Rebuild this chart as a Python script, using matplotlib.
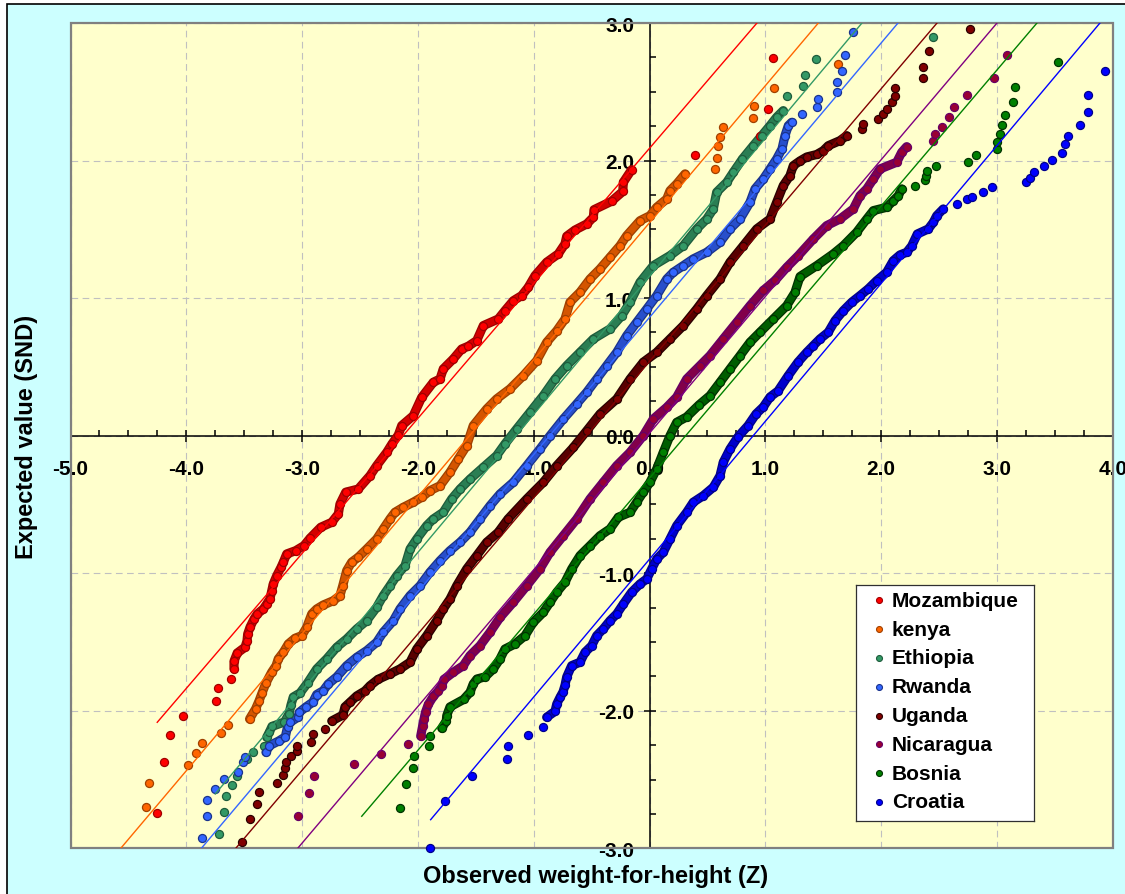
import matplotlib
matplotlib.use("Agg")
import numpy as np
import matplotlib.pyplot as plt
import matplotlib.patheffects as pe
from matplotlib.patches import Rectangle
from matplotlib.ticker import MultipleLocator
from matplotlib.colors import to_rgb

plt.rcParams['font.family'] = ['Liberation Sans', 'DejaVu Sans']
plt.rcParams['font.weight'] = 'bold'
plt.rcParams['axes.unicode_minus'] = False

# observed z (x) against expected SND value (y), low to high
moz_x = [-4.25, -4.195, -4.143, -4.031, -3.741, -3.726, -3.618, -3.588, -3.588, -3.56,
         -3.493, -3.476, -3.47, -3.45, -3.415, -3.387, -3.335, -3.306, -3.278, -3.262,
         -3.249, -3.219, -3.182, -3.162, -3.133, -3.055, -2.984, -2.932, -2.839, -2.744,
         -2.687, -2.673, -2.623, -2.515, -2.414, -2.356, -2.269, -2.224, -2.169, -2.14,
         -2.04, -1.967, -1.867, -1.809, -1.781, -1.694, -1.622, -1.565, -1.492, -1.435,
         -1.306, -1.248, -1.176, -1.104, -1.047, -0.989, -0.888, -0.788, -0.73, -0.715,
         -0.643, -0.542, -0.485, -0.479, -0.328, -0.231, -0.226, -0.154, 0.393, 0.954,
         1.026, 1.064]
moz_y = [-2.745, -2.374, -2.177, -2.036, -1.931, -1.838, -1.772, -1.696, -1.64, -1.58,
         -1.538, -1.493, -1.442, -1.393, -1.333, -1.296, -1.26, -1.224, -1.187, -1.127,
         -1.078, -1.018, -0.957, -0.92, -0.86, -0.836, -0.8, -0.746, -0.666, -0.63,
         -0.569, -0.497, -0.411, -0.388, -0.291, -0.218, -0.121, -0.06, 0.005, 0.073,
         0.145, 0.279, 0.388, 0.412, 0.485, 0.558, 0.63, 0.65, 0.691, 0.8,
         0.848, 0.909, 0.981, 1.018, 1.079, 1.163, 1.261, 1.321, 1.394, 1.45,
         1.495, 1.539, 1.588, 1.643, 1.704, 1.775, 1.842, 1.934, 2.041, 2.181,
         2.375, 2.748]

ken_x = [-4.348, -4.322, -3.988, -3.919, -3.867, -3.70, -3.644, -3.454, -3.402, -3.372,
         -3.346, -3.312, -3.263, -3.225, -3.206, -3.162, -3.119, -3.061, -3.003, -2.96,
         -2.917, -2.874, -2.817, -2.731, -2.673, -2.649, -2.615, -2.572, -2.515, -2.442,
         -2.356, -2.299, -2.241, -2.198, -2.126, -2.04, -1.967, -1.896, -1.809, -1.723,
         -1.651, -1.579, -1.522, -1.406, -1.32, -1.205, -1.09, -0.974, -0.888, -0.801,
         -0.73, -0.687, -0.60, -0.514, -0.428, -0.341, -0.255, -0.197, -0.082, 0.004,
         0.062, 0.149, 0.177, 0.235, 0.307, 0.566, 0.58, 0.594, 0.609, 0.632,
         0.891, 0.902, 1.078, 1.63]
ken_y = [-2.697, -2.525, -2.396, -2.305, -2.234, -2.163, -2.103, -2.06, -1.987, -1.929,
         -1.871, -1.798, -1.72, -1.672, -1.623, -1.575, -1.514, -1.473, -1.454, -1.393,
         -1.296, -1.26, -1.231, -1.20, -1.163, -1.091, -0.981, -0.92, -0.884, -0.824,
         -0.751, -0.678, -0.605, -0.557, -0.521, -0.484, -0.448, -0.40, -0.364, -0.266,
         -0.169, -0.073, 0.073, 0.194, 0.267, 0.34, 0.436, 0.545, 0.679, 0.763,
         0.848, 0.97, 1.043, 1.139, 1.212, 1.297, 1.381, 1.454, 1.563, 1.599,
         1.66, 1.721, 1.781, 1.83, 1.903, 1.939, 2.017, 2.108, 2.169, 2.242,
         2.308, 2.399, 2.526, 2.702]

eth_x = [-3.715, -3.672, -3.66, -3.603, -3.56, -3.478, -3.427, -3.326, -3.306, -3.283,
         -3.26, -3.152, -3.113, -3.096, -3.076, -3.018, -2.953, -2.874, -2.788, -2.701,
         -2.615, -2.528, -2.442, -2.356, -2.299, -2.241, -2.183, -2.111, -2.068, -2.01,
         -1.924, -1.867, -1.781, -1.708, -1.636, -1.55, -1.435, -1.32, -1.248, -1.147,
         -1.032, -0.917, -0.816, -0.715, -0.60, -0.485, -0.341, -0.24, -0.168, -0.082,
         0.033, 0.177, 0.292, 0.408, 0.494, 0.551, 0.58, 0.667, 0.724, 0.803,
         0.896, 0.969, 1.041, 1.098, 1.155, 1.185, 1.323, 1.343, 1.438, 2.451]
eth_y = [-2.896, -2.734, -2.617, -2.537, -2.472, -2.35, -2.302, -2.254, -2.193, -2.156,
         -2.114, -2.081, -2.023, -1.958, -1.90, -1.871, -1.798, -1.696, -1.623, -1.538,
         -1.478, -1.405, -1.345, -1.248, -1.163, -1.091, -1.018, -0.945, -0.824, -0.751,
         -0.654, -0.606, -0.557, -0.46, -0.388, -0.316, -0.23, -0.145, -0.06, 0.049,
         0.17, 0.291, 0.412, 0.509, 0.606, 0.703, 0.776, 0.872, 0.97, 1.115,
         1.236, 1.309, 1.381, 1.503, 1.575, 1.648, 1.77, 1.842, 1.915, 2.012,
         2.108, 2.181, 2.254, 2.315, 2.363, 2.472, 2.54, 2.622, 2.739, 2.901]

rwa_x = [-3.864, -3.824, -3.824, -3.755, -3.674, -3.551, -3.508, -3.493, -3.312, -3.283,
         -3.202, -3.145, -3.126, -3.104, -3.033, -3.024, -2.966, -2.908, -2.874, -2.817,
         -2.774, -2.701, -2.615, -2.528, -2.442, -2.356, -2.299, -2.212, -2.155, -2.068,
         -1.982, -1.896, -1.809, -1.723, -1.636, -1.55, -1.464, -1.377, -1.291, -1.176,
         -1.06, -0.946, -0.859, -0.744, -0.629, -0.542, -0.456, -0.37, -0.283, -0.197,
         -0.111, -0.024, 0.062, 0.149, 0.206, 0.292, 0.378, 0.494, 0.609, 0.695,
         0.782, 0.868, 0.911, 0.983, 1.041, 1.098, 1.144, 1.17, 1.199, 1.228,
         1.314, 1.444, 1.458, 1.622, 1.622, 1.66, 1.688, 1.76]
rwa_y = [-2.927, -2.767, -2.651, -2.569, -2.497, -2.447, -2.374, -2.338, -2.302, -2.254,
         -2.22, -2.19, -2.118, -2.084, -2.045, -2.011, -1.972, -1.938, -1.882, -1.854,
         -1.805, -1.754, -1.672, -1.611, -1.563, -1.502, -1.429, -1.345, -1.26, -1.163,
         -1.091, -0.993, -0.909, -0.836, -0.775, -0.702, -0.606, -0.509, -0.424, -0.339,
         -0.218, -0.097, 0.0, 0.121, 0.231, 0.316, 0.412, 0.509, 0.606, 0.727,
         0.824, 0.921, 1.018, 1.139, 1.188, 1.236, 1.285, 1.333, 1.406, 1.503,
         1.575, 1.697, 1.794, 1.866, 1.939, 2.012, 2.084, 2.181, 2.254, 2.278,
         2.339, 2.388, 2.448, 2.501, 2.574, 2.654, 2.77, 2.933]

uga_x = [-3.522, -3.45, -3.392, -3.37, -3.217, -3.162, -3.145, -3.142, -3.096, -3.047,
         -3.047, -2.926, -2.903, -2.80, -2.744, -2.647, -2.63, -2.586, -2.528, -2.457,
         -2.414, -2.345, -2.241, -2.155, -2.068, -2.01, -1.924, -1.838, -1.781, -1.723,
         -1.665, -1.579, -1.492, -1.406, -1.308, -1.222, -1.06, -0.917, -0.801, -0.658,
         -0.542, -0.427, -0.283, -0.168, -0.054, 0.062, 0.177, 0.292, 0.408, 0.494,
         0.609, 0.695, 0.81, 0.926, 1.041, 1.098, 1.155, 1.213, 1.242, 1.299,
         1.358, 1.444, 1.501, 1.544, 1.645, 1.703, 1.838, 1.846, 1.976, 2.019,
         2.054, 2.097, 2.12, 2.123, 2.359, 2.364, 2.416, 2.768]
uga_y = [-2.956, -2.789, -2.675, -2.593, -2.525, -2.467, -2.418, -2.37, -2.331, -2.29,
         -2.254, -2.225, -2.169, -2.136, -2.074, -2.031, -1.972, -1.938, -1.892, -1.856,
         -1.818, -1.772, -1.732, -1.696, -1.647, -1.551, -1.454, -1.345, -1.26, -1.188,
         -1.091, -0.969, -0.872, -0.775, -0.704, -0.606, -0.46, -0.339, -0.218, -0.086,
         0.036, 0.158, 0.267, 0.412, 0.534, 0.606, 0.703, 0.80, 0.921, 1.018,
         1.139, 1.261, 1.381, 1.503, 1.575, 1.697, 1.818, 1.89, 1.963, 1.997,
         2.026, 2.044, 2.072, 2.108, 2.145, 2.181, 2.23, 2.266, 2.303, 2.339,
         2.376, 2.424, 2.472, 2.526, 2.598, 2.678, 2.795, 2.956]

nic_x = [-3.038, -2.943, -2.897, -2.554, -2.321, -2.085, -1.976, -1.959, -1.947, -1.934,
         -1.91, -1.867, -1.824, -1.794, -1.775, -1.694, -1.608, -1.55, -1.464, -1.377,
         -1.291, -1.176, -1.06, -0.946, -0.859, -0.744, -0.629, -0.514, -0.399, -0.283,
         -0.168, -0.054, 0.033, 0.149, 0.235, 0.321, 0.436, 0.522, 0.637, 0.753,
         0.868, 0.983, 1.084, 1.185, 1.285, 1.415, 1.53, 1.645, 1.76, 1.818,
         1.876, 1.933, 1.991, 2.135, 2.178, 2.221, 2.451, 2.465, 2.523, 2.589,
         2.629, 2.739, 2.978, 3.085]
nic_y = [-2.765, -2.595, -2.476, -2.385, -2.314, -2.241, -2.185, -2.111, -2.06, -2.009,
         -1.954, -1.896, -1.856, -1.818, -1.772, -1.72, -1.672, -1.599, -1.527, -1.429,
         -1.322, -1.211, -1.091, -0.969, -0.848, -0.727, -0.606, -0.46, -0.339, -0.218,
         -0.121, 0.0, 0.121, 0.206, 0.281, 0.412, 0.509, 0.582, 0.703, 0.824,
         0.945, 1.056, 1.128, 1.224, 1.309, 1.43, 1.527, 1.575, 1.648, 1.745,
         1.794, 1.866, 1.939, 1.988, 2.06, 2.101, 2.145, 2.193, 2.246, 2.319,
         2.388, 2.479, 2.598, 2.77]

bos_x = [-2.155, -2.10, -2.045, -2.031, -1.907, -1.893, -1.794, -1.755, -1.751, -1.723,
         -1.606, -1.55, -1.522, -1.49, -1.421, -1.349, -1.291, -1.248, -1.161, -1.075,
         -1.003, -0.917, -0.859, -0.801, -0.73, -0.672, -0.60, -0.514, -0.427, -0.341,
         -0.269, -0.168, -0.111, -0.054, 0.004, 0.062, 0.119, 0.177, 0.235, 0.321,
         0.427, 0.522, 0.609, 0.695, 0.782, 0.868, 0.954, 1.069, 1.185, 1.256,
         1.30, 1.444, 1.587, 1.674, 1.789, 1.876, 1.933, 2.048, 2.105, 2.149,
         2.178, 2.297, 2.379, 2.385, 2.396, 2.474, 2.75, 2.82, 2.997, 2.997,
         3.027, 3.04, 3.07, 3.135, 3.156, 3.53]
bos_y = [-2.707, -2.536, -2.418, -2.326, -2.254, -2.185, -2.127, -2.074, -2.036, -1.972,
         -1.918, -1.866, -1.805, -1.769, -1.754, -1.696, -1.623, -1.551, -1.514, -1.454,
         -1.357, -1.284, -1.211, -1.138, -1.066, -0.969, -0.872, -0.80, -0.727, -0.678,
         -0.593, -0.557, -0.484, -0.411, -0.339, -0.242, -0.121, 0.0, 0.097, 0.136,
         0.223, 0.291, 0.388, 0.485, 0.582, 0.679, 0.752, 0.848, 0.945, 1.041,
         1.157, 1.236, 1.321, 1.381, 1.479, 1.575, 1.636, 1.66, 1.708, 1.745,
         1.794, 1.818, 1.859, 1.89, 1.927, 1.961, 1.993, 2.041, 2.084, 2.133,
         2.193, 2.259, 2.332, 2.424, 2.537, 2.715]

cro_x = [-1.896, -1.766, -1.53, -1.233, -1.219, -1.047, -0.917, -0.888, -0.816, -0.801,
         -0.773, -0.747, -0.73, -0.715, -0.672, -0.60, -0.557, -0.499, -0.456, -0.399,
         -0.341, -0.283, -0.226, -0.154, -0.082, -0.024, 0.019, 0.062, 0.119, 0.177,
         0.235, 0.321, 0.378, 0.465, 0.551, 0.609, 0.637, 0.695, 0.764, 0.851,
         0.92, 0.983, 1.041, 1.11, 1.196, 1.282, 1.358, 1.414, 1.472, 1.544,
         1.602, 1.674, 1.746, 1.818, 1.889, 1.962, 2.048, 2.105, 2.163, 2.221,
         2.264, 2.313, 2.408, 2.451, 2.48, 2.537, 2.655, 2.742, 2.782, 2.88,
         2.958, 3.247, 3.29, 3.32, 3.407, 3.48, 3.558, 3.592, 3.618, 3.718,
         3.79, 3.79, 3.933]
cro_y = [-3.0, -2.654, -2.476, -2.35, -2.258, -2.176, -2.12, -2.047, -2.004, -1.951,
         -1.903, -1.863, -1.816, -1.754, -1.672, -1.647, -1.575, -1.527, -1.454, -1.405,
         -1.345, -1.296, -1.224, -1.138, -1.078, -1.042, -0.969, -0.897, -0.848, -0.751,
         -0.654, -0.557, -0.484, -0.436, -0.375, -0.291, -0.193, -0.097, -0.009, 0.073,
         0.158, 0.209, 0.281, 0.325, 0.434, 0.534, 0.606, 0.654, 0.703, 0.752,
         0.836, 0.909, 0.97, 1.018, 1.067, 1.127, 1.188, 1.272, 1.314, 1.333,
         1.379, 1.466, 1.503, 1.551, 1.599, 1.648, 1.681, 1.717, 1.738, 1.774,
         1.806, 1.842, 1.876, 1.915, 1.959, 2.004, 2.053, 2.121, 2.181, 2.261,
         2.351, 2.479, 2.654]

# fitted straight lines (start and end)
moz_fit_x, moz_fit_y = [-4.251, 0.928], [-2.084, 3.0]
ken_fit_x, ken_fit_y = [-4.566, 1.458], [-3.0, 3.0]
eth_fit_x, eth_fit_y = [-3.75, 1.835], [-2.605, 3.0]
rwa_fit_x, rwa_fit_y = [-3.87, 2.146], [-3.0, 3.0]
uga_fit_x, uga_fit_y = [-3.573, 2.483], [-3.0, 3.0]
nic_fit_x, nic_fit_y = [-3.038, 3.001], [-3.0, 3.0]
bos_fit_x, bos_fit_y = [-2.485, 3.346], [-2.767, 3.0]
cro_fit_x, cro_fit_y = [-1.89, 3.89], [-2.792, 3.0]

x_ticks = [-5, -4, -3, -2, -1, 0, 1, 2, 3, 4]
y_ticks = [-3, -2, -1, 0, 1, 2, 3]

# name, x, y, fit x, fit y, fill, edge, line colour, index range where dots pile up
series = [
    ("Mozambique", moz_x, moz_y, moz_fit_x, moz_fit_y, "#FF0000", "#A00000", "#FF0000", (7, 68)),
    ("kenya", ken_x, ken_y, ken_fit_x, ken_fit_y, "#FF6600", "#A04000", "#FF6600", (7, 65)),
    ("Ethiopia", eth_x, eth_y, eth_fit_x, eth_fit_y, "#339966", "#1E5C3C", "#339966", (8, 65)),
    ("Rwanda", rwa_x, rwa_y, rwa_fit_x, rwa_fit_y, "#3366FF", "#1A338C", "#3366FF", (8, 70)),
    ("Uganda", uga_x, uga_y, uga_fit_x, uga_fit_y, "#800000", "#2A0000", "#800000", (14, 66)),
    ("Nicaragua", nic_x, nic_y, nic_fit_x, nic_fit_y, "#990033", "#660066", "#800080", (6, 56)),
    ("Bosnia", bos_x, bos_y, bos_fit_x, bos_fit_y, "#008000", "#003300", "#008000", (6, 61)),
    ("Croatia", cro_x, cro_y, cro_fit_x, cro_fit_y, "#0000FF", "#00008B", "#0000FF", (7, 66)),
]


def mix(c1, c2, t):
    a, b = to_rgb(c1), to_rgb(c2)
    return tuple(a[i] * (1 - t) + b[i] * t for i in range(3))


W, H = 1125, 895
fig = plt.figure(figsize=(W / 100, H / 100), dpi=100)
fig.patch.set_facecolor("white")
fig.add_artist(Rectangle((7 / W, -0.05), 1.1, 1 - 5 / H + 0.05, transform=fig.transFigure,
                         facecolor="#CCFFFF", edgecolor="black", lw=1.2, zorder=-1))

ax = fig.add_axes([70.5 / W, 1 - 849.3 / H, 1042.2 / W, 825.3 / H])
ax.set_facecolor("#FFFFCC")

ax.spines["left"].set_position(("data", 0))
ax.spines["bottom"].set_position(("data", 0))
ax.spines["top"].set_visible(False)
ax.spines["right"].set_visible(False)
for s in ("left", "bottom"):
    ax.spines[s].set_linewidth(1.1)

ax.set_xticks(x_ticks, [f"{v:.1f}" for v in x_ticks], fontsize=15, fontweight="bold")
ax.set_yticks(y_ticks, [f"{v:.1f}" for v in y_ticks], fontsize=15, fontweight="bold")
ax.xaxis.set_minor_locator(MultipleLocator(0.25))
ax.yaxis.set_minor_locator(MultipleLocator(0.25))
ax.set_xlim(-5, 4)
ax.set_ylim(-3, 3)
ax.tick_params(which="major", direction="inout", length=8, width=1.1)
ax.tick_params(which="minor", direction="in", length=4, width=1.1)
ax.tick_params(axis="x", which="major", pad=13)
ax.tick_params(axis="y", which="major", pad=7)
ax.grid(True, which="major", color="#C0C0C0", ls=(0, (6, 4)), lw=0.8)

ax.add_patch(Rectangle((0, 0), 1, 1, transform=ax.transAxes, fill=False,
                       ec="#808080", lw=1.6, zorder=2.6, clip_on=False))

for name, xs, ys, fx, fy, fill, edge, line, (i0, i1) in series:
    ax.plot(xs[i0:i1], ys[i0:i1], color=mix(fill, edge, 0.45), lw=4.8,
            solid_capstyle="round", solid_joinstyle="round", zorder=3,
            path_effects=[pe.Stroke(linewidth=6.6, foreground=edge), pe.Normal()])
    ax.plot(xs, ys, "o", ms=5.8, mfc=fill, mec=edge, mew=0.9, zorder=3.2, clip_on=False)
for name, xs, ys, fx, fy, fill, edge, line, rng in series:
    ax.plot(fx, fy, color=line, lw=1.0, zorder=4)

fig.text(27 / W, 1 - 437 / H, "Expected value (SND)", rotation=90, fontsize=17,
         fontweight="bold", ha="center", va="center")
fig.text(596 / W, 1 - 877 / H, "Observed weight-for-height (Z)", fontsize=17,
         fontweight="bold", ha="center", va="center")

# legend box
lw_, lh_ = 178.6, 236.3
lg = fig.add_axes([855.7 / W, 1 - 822.3 / H, lw_ / W, lh_ / H], zorder=5)
lg.set_facecolor("white")
lg.set_xlim(0, lw_)
lg.set_ylim(lh_, 0)
lg.set_xticks([])
lg.set_yticks([])
for s in lg.spines.values():
    s.set_linewidth(0.9)
    s.set_edgecolor("#303030")
for i, (name, xs, ys, fx, fy, fill, edge, line, rng) in enumerate(series):
    yy = 15.3 + 28.8 * i
    lg.plot([23.3], [yy], "o", ms=4.3, mfc=fill, mec=edge, mew=0.8)
    lg.text(36, yy, name, fontsize=15, fontweight="bold", ha="left", va="center")

fig.savefig("out.png", dpi=100)
